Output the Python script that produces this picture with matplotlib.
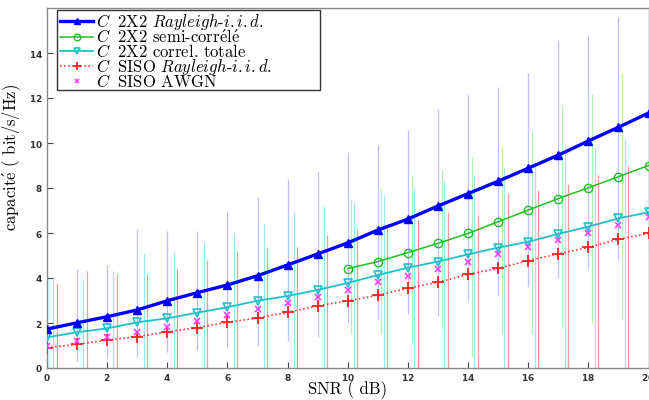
import numpy as np
import matplotlib
matplotlib.use('Agg')
import matplotlib.pyplot as plt
from matplotlib.patches import Rectangle

plt.rcParams['font.family'] = ['cmr10', 'DejaVu Serif']
plt.rcParams['mathtext.fontset'] = 'cm'
plt.rcParams['axes.formatter.use_mathtext'] = True

# SNR (dB)
snr = np.arange(0, 21)
snr_semi = np.arange(10, 21)

# capacites moyennes
c_iid = [1.73, 2.01, 2.28, 2.58, 2.99, 3.35, 3.69, 4.10, 4.58, 5.07, 5.56,
         6.13, 6.62, 7.20, 7.75, 8.30, 8.88, 9.46, 10.09, 10.70, 11.33]
c_semi = [4.42, 4.73, 5.13, 5.54, 5.98, 6.50, 7.02, 7.53, 8.01, 8.50, 9.00]
c_tot = [1.36, 1.59, 1.76, 2.03, 2.21, 2.46, 2.70, 2.99, 3.20, 3.47, 3.78,
         4.13, 4.46, 4.73, 5.05, 5.35, 5.61, 5.96, 6.28, 6.65, 6.92]
c_siso = [0.90, 1.05, 1.24, 1.39, 1.61, 1.79, 2.03, 2.22, 2.47, 2.76, 2.98,
          3.24, 3.54, 3.81, 4.16, 4.43, 4.77, 5.07, 5.36, 5.72, 5.98]
c_awgn = [0.99, 1.21, 1.36, 1.60, 1.84, 2.09, 2.36, 2.61, 2.88, 3.17, 3.47,
          3.81, 4.09, 4.40, 4.73, 5.05, 5.36, 5.69, 6.01, 6.36, 6.70]

# etendue des nuages de realisations (min / max) pour chaque SNR
iid_lo = [0.0, 0.3, 0.4, 0.5, 0.7, 0.8, 0.9, 1.0, 1.2, 1.4, 2.0,
          2.2, 2.4, 2.3, 3.0, 3.2, 3.6, 4.0, 4.4, 4.8, 5.2]
iid_hi = [4.0, 4.4, 4.6, 6.2, 6.1, 6.1, 7.0, 7.6, 8.4, 8.7, 9.6,
          9.9, 10.6, 11.5, 12.2, 12.5, 13.1, 14.6, 14.8, 15.6, 15.8]
semi_lo = [1.5, 1.5, 1.1, 1.8, 0.5, 1.5, 1.5, 1.8, 2.0, 2.2, 2.5]
semi_hi = [7.5, 8.0, 8.6, 8.8, 9.4, 9.8, 10.6, 11.7, 12.2, 13.1, 13.5]
tot_hi = [4.0, 3.9, 4.3, 5.1, 5.2, 5.6, 6.0, 6.4, 7.0, 7.2, 7.4,
          7.7, 8.0, 8.3, 8.6, 8.9, 9.2, 9.9, 9.8, 10.2, 10.4]
siso_hi = [3.8, 4.3, 4.2, 4.2, 4.4, 4.8, 5.2, 5.4, 5.4, 5.9, 6.2,
           6.4, 6.6, 6.95, 6.8, 7.8, 7.9, 8.2, 8.6, 9.0, 9.2]

fig = plt.figure(figsize=(6.49, 4.0), dpi=100)
ax = fig.add_axes([47 / 649, 32 / 400, 601.5 / 649, 360 / 400])

# nuages (traits verticaux legerement decales)
ax.vlines(snr, iid_lo, iid_hi, color='#6060ff', lw=0.9, alpha=0.4, zorder=1)
ax.vlines(snr_semi + 0.12, semi_lo, semi_hi, color='#40e040', lw=0.9, alpha=0.4, zorder=1)
ax.vlines(snr + 0.21, 0, tot_hi, color='#30d8d8', lw=0.9, alpha=0.5, zorder=1)
ax.vlines(snr + 0.32, 0, siso_hi, color='#ff4040', lw=0.9, alpha=0.55, zorder=1)

ax.plot(snr, c_iid, '-^', color='#0000ff', lw=2.4, ms=6, mfc='#0000ff',
        label=r'$C\;$ 2X2 $\mathit{Rayleigh}$-$\mathit{i.i.d.}$', zorder=5)
ax.plot(snr_semi, c_semi, '-o', color='#20c020', lw=1.1, ms=6, mfc='none',
        label=r'$C\;$ 2X2 semi-corr$\acute{\mathrm{e}}$l$\acute{\mathrm{e}}$', zorder=4)
ax.plot(snr, c_tot, '-v', color='#20c0c8', lw=1.3, ms=6, mfc='none', mew=1.2,
        label=r'$C\;$ 2X2 correl. totale', zorder=4)
ax.plot(snr, c_siso, ':+', color='#ff2020', lw=1.1, ms=8, mew=1.3,
        label=r'$C\;$ SISO $\mathit{Rayleigh}$-$\mathit{i.i.d.}$', zorder=4)
ax.plot(snr, c_awgn, 'x', color='#ff40ff', ms=4, mew=1.2, ls='none',
        label=r'$C\;$ SISO AWGN', zorder=4)

ax.set_xlim(0, 20)
ax.set_ylim(0, 16)
ax.set_xticks(np.arange(0, 21, 2))
ax.set_yticks(np.arange(0, 15, 2))
ax.tick_params(direction='in', length=4, width=0.8,
               colors='#444444', labelsize=6.5, pad=3)
for lab in ax.get_xticklabels() + ax.get_yticklabels():
    lab.set_family('DejaVu Sans')
    lab.set_fontweight('bold')
    lab.set_color('#333333')
for s in ax.spines.values():
    s.set_color('#888888')
    s.set_linewidth(1.0)

ax.set_xlabel('SNR ( dB)', fontsize=12)
ax.xaxis.set_label_coords(0.5, -0.033)
ax.set_ylabel(r'capacit$\acute{\mathrm{e}}$ ( bit/s/Hz)', fontsize=12)
ax.yaxis.set_label_coords(-0.04, 0.586)

# cadre de legende plus large que le texte (comme dans l'original)
ax.add_patch(Rectangle((0.0166, 0.772), 0.437, 0.222, transform=ax.transAxes,
                       facecolor='white', edgecolor='#333333', lw=1.0, zorder=6))
leg = ax.legend(loc='upper left', bbox_to_anchor=(0.019, 0.993), borderaxespad=0,
                fontsize=12, handlelength=2.0, handletextpad=0.15, markerscale=0.8,
                labelspacing=-0.2, borderpad=0.1, frameon=False)
leg.set_zorder(7)

fig.savefig('out.png', dpi=100)
